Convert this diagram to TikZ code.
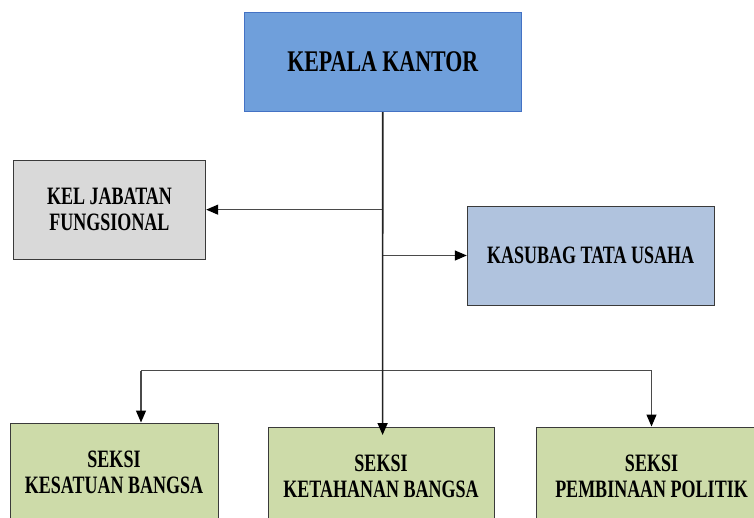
\documentclass[tikz,border=0pt]{standalone}
\usepackage{fontspec}
\setmainfont{Liberation Serif}[FakeStretch=0.72]
\newfontfamily\kepfont{Liberation Serif}[FakeStretch=0.73]
\usetikzlibrary{arrows.meta}
\definecolor{kepfill}{HTML}{6F9FDB}
\definecolor{kepline}{HTML}{4472C4}
\definecolor{kelfill}{HTML}{D9D9D9}
\definecolor{kasfill}{HTML}{B0C3DE}
\definecolor{seksifill}{HTML}{CDDBA9}
\definecolor{boxline}{HTML}{3A3A3A}
\definecolor{conn}{HTML}{4A4A4A}
\definecolor{trunkc}{HTML}{222222}
\begin{document}
\begin{tikzpicture}[x=1pt,y=-1pt,
  box/.style={draw=boxline, line width=1pt, inner sep=0pt, align=center,
    font=\bfseries\fontsize{25}{26}\selectfont},
  conn/.style={draw=conn, line width=1.2pt},
  arr/.style={conn, -{Triangle[length=12pt,width=10pt,color=black]}},
  trunk/.style={draw=trunkc, line width=1.6pt, -{Triangle[length=12pt,width=10pt,color=black]}}
]
\useasboundingbox (0,0) rectangle (754,517);
\clip (0,0) rectangle (754,517);
\node[box, draw=kepline, fill=kepfill, minimum width=276.5pt, minimum height=99pt,
  font=\kepfont\bfseries\fontsize{30}{31}\selectfont] (kep) at (382.75,62) {KEPALA KANTOR};
\node[box, fill=kelfill, minimum width=192.4pt, minimum height=99.3pt] (kel) at (109.5,209.65) {KEL JABATAN\\FUNGSIONAL};
\node[box, fill=kasfill, minimum width=246.7pt, minimum height=99pt] (kas) at (590.65,255.5) {KASUBAG TATA USAHA};
\node[box, fill=seksifill, minimum width=208pt, minimum height=98pt] (s1) at (114,472) {SEKSI\\KESATUAN BANGSA};
\node[box, fill=seksifill, minimum width=226pt, minimum height=98pt] (s2) at (381,476) {SEKSI\\KETAHANAN BANGSA};
\node[box, fill=seksifill, minimum width=231pt, minimum height=98pt] (s3) at (651.5,476) {SEKSI\\PEMBINAAN POLITIK};
\coordinate (barL) at (141,370.7);
\coordinate (barR) at (651.5,370.7);
\coordinate (tend) at (382.6,435);
\draw[arr] (kel.east -| kep.south) -- (kel.east);
\draw[arr] (kas.west -| kep.south) -- (kas.west);
\draw[conn] (barL) -- (barR);
\draw[arr] (barL) -- (barL |- s1.north);
\draw[arr] (barR) -- (s3.north);
\draw[trunk] (kep.south) -- (tend);
\end{tikzpicture}
\end{document}
